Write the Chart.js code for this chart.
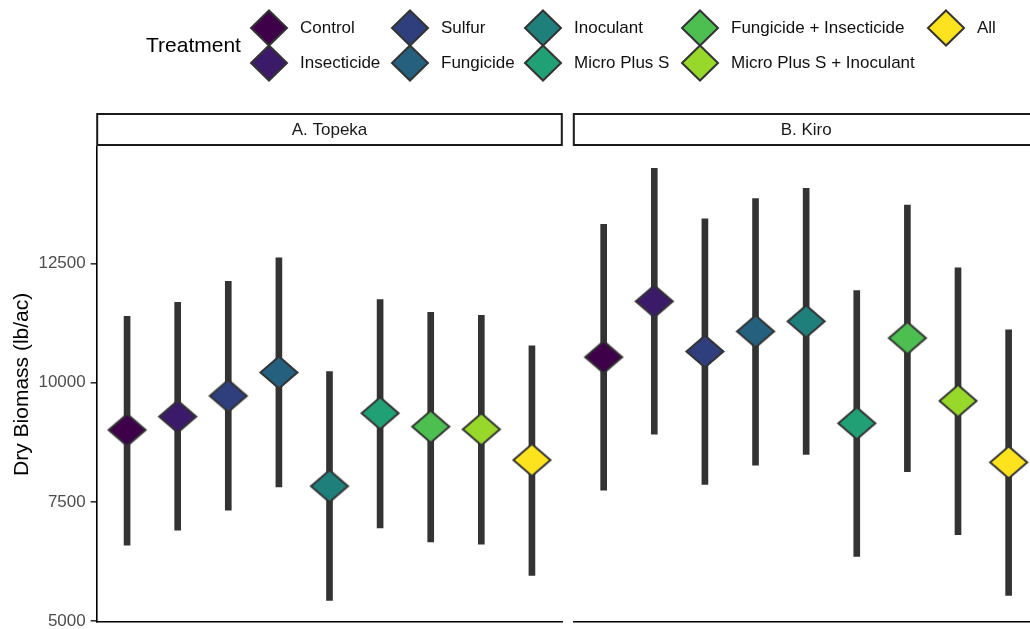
<!DOCTYPE html>
<html>
<head>
<meta charset="utf-8">
<script src="https://cdn.jsdelivr.net/npm/chart.js@4.4.1/dist/chart.umd.min.js"></script>
<style>
  html, body { margin: 0; padding: 0; overflow: hidden; background: #fff; }
  #wrap { position: relative; width: 1040px; height: 629px; }
  #wrap canvas { position: absolute; left: 0; top: 0; }
</style>
</head>
<body>
<div id="wrap">
  <canvas id="topekaChart" width="1040" height="629"></canvas>
  <canvas id="kiroChart" width="1040" height="629"></canvas>
</div>
<script>
// treatments, in legend / x order
const treatments = ['Control', 'Insecticide', 'Sulfur', 'Fungicide', 'Inoculant',
  'Micro Plus S', 'Fungicide + Insecticide', 'Micro Plus S + Inoculant', 'All'];

// A. Topeka
const topekaMean  = [9009, 9289, 9724, 10215, 7831, 9360, 9079, 9023, 8378];
const topekaLower = [6591, 6906, 7327, 7817, 5434, 6955, 6660, 6612, 5960];
const topekaUpper = [11392, 11686, 12128, 12620, 10236, 11743, 11476, 11413, 10776];

// B. Kiro
const kiroMean  = [10538, 11707, 10656, 11076, 11287, 9150, 10937, 9619, 8330];
const kiroLower = [7747, 8919, 7867, 8273, 8498, 6359, 8132, 6815, 5539];
const kiroUpper = [13320, 14498, 13440, 13861, 14077, 11932, 13726, 12410, 11112];

const yTicks = [5000, 7500, 10000, 12500];
const yMin = 4981;
const yMax = 14951;

const fillColors = ['#3d0049', '#3b1b69', '#2f3f7d', '#25607e', '#1e7f7b',
  '#22a075', '#4cbf50', '#97d82a', '#fde31e'];

const FONT = "'Liberation Sans', Arial, sans-serif";
Chart.defaults.font.family = FONT;

function diamondPath(ctx, cx, cy, hw, hh) {
  ctx.beginPath();
  ctx.moveTo(cx, cy - hh);
  ctx.lineTo(cx + hw, cy);
  ctx.lineTo(cx, cy + hh);
  ctx.lineTo(cx - hw, cy);
  ctx.closePath();
}

// point images for the plot diamonds
function makeDiamond(color) {
  const c = document.createElement('canvas');
  c.width = 42;
  c.height = 37;
  const ctx = c.getContext('2d');
  diamondPath(ctx, 21, 18.5, 18.5, 16);
  ctx.fillStyle = color;
  ctx.fill();
  ctx.lineWidth = 2;
  ctx.strokeStyle = '#333333';
  ctx.stroke();
  return c;
}
const diamondImgs = fillColors.map(makeDiamond);

const stripPlugin = {
  id: 'strip',
  afterDraw(chart, args, opts) {
    const { ctx, chartArea } = chart;
    const w = chartArea.right - chartArea.left;
    ctx.save();
    ctx.fillStyle = '#fff';
    ctx.fillRect(chartArea.left, 114, w, 31);
    ctx.strokeStyle = '#1a1a1a';
    ctx.lineWidth = 2;
    ctx.strokeRect(chartArea.left + 0.5, 114, w - 1, 31);
    ctx.fillStyle = '#1a1a1a';
    ctx.font = '17px ' + FONT;
    ctx.textAlign = 'center';
    ctx.textBaseline = 'middle';
    ctx.fillText(opts.text, chartArea.left + w / 2, 130);
    ctx.restore();
  }
};

const legendCols = [269, 410, 543, 700, 946];
const legendRows = [28, 63];
const legendPlugin = {
  id: 'treatLegend',
  afterDraw(chart) {
    const ctx = chart.ctx;
    ctx.save();
    ctx.textBaseline = 'middle';
    ctx.textAlign = 'left';
    ctx.fillStyle = '#000';
    ctx.font = '21px ' + FONT;
    ctx.fillText('Treatment', 146, 46);
    ctx.font = '17px ' + FONT;
    treatments.forEach((t, i) => {
      const cx = legendCols[Math.floor(i / 2)];
      const cy = legendRows[i % 2];
      diamondPath(ctx, cx, cy, 18, 17.5);
      ctx.fillStyle = fillColors[i];
      ctx.fill();
      ctx.lineWidth = 2;
      ctx.strokeStyle = '#333333';
      ctx.stroke();
      ctx.fillStyle = '#111';
      ctx.fillText(t, cx + 31, cy);
    });
    ctx.restore();
  }
};

// nudge layout padding so the plot area lands on the panel box
function fitArea(chart, box) {
  const a = chart.chartArea;
  const p = chart.options.layout.padding;
  p.left += box.left - a.left;
  p.right += a.right - box.right;
  p.top += box.top - a.top;
  p.bottom += a.bottom - box.bottom;
  chart.update();
}

function makePanel(canvasId, title, mean, lower, upper, isLeft) {
  const ctx = document.getElementById(canvasId).getContext('2d');
  const chart = new Chart(ctx, {
    type: 'bar',
    data: {
      datasets: [
        {
          type: 'scatter',
          data: mean.map((m, i) => ({ x: i, y: m })),
          pointStyle: diamondImgs,
          pointRadius: 18,
          order: 0
        },
        {
          type: 'bar',
          data: lower.map((lo, i) => ({ x: i, y: [lo, upper[i]] })),
          backgroundColor: '#333333',
          borderWidth: 0,
          barThickness: 6,
          order: 1
        }
      ]
    },
    options: {
      responsive: false,
      animation: false,
      devicePixelRatio: 1,
      layout: {
        autoPadding: false,
        padding: isLeft
          ? { left: 0, right: 477.7, top: 146.7, bottom: 7 }
          : { left: 573.3, right: 1, top: 146.7, bottom: 7 }
      },
      plugins: {
        legend: { display: false },
        tooltip: { enabled: false },
        strip: { text: title }
      },
      scales: {
        x: {
          type: 'linear',
          min: -0.6,
          max: 8.6,
          offset: false,
          ticks: { display: false },
          grid: { display: false },
          border: { display: true, color: '#000', width: 1.6 },
          afterFit: (scale) => { scale.height = 0; }
        },
        y: {
          display: isLeft,
          min: yMin,
          max: yMax,
          afterBuildTicks: (scale) => { scale.ticks = yTicks.map(v => ({ value: v })); },
          afterFit: (scale) => {
            if (isLeft) scale.width = 96.7;
            scale.paddingTop = 0;
            scale.paddingBottom = 0;
          },
          ticks: {
            color: '#4d4d4d',
            font: { size: 17 },
            padding: 5,
            callback: (v) => String(v)
          },
          grid: {
            drawOnChartArea: false,
            drawTicks: true,
            tickLength: 6,
            color: '#333333',
            lineWidth: 1.6
          },
          border: { display: true, color: '#000', width: 1.6 },
          title: {
            display: true,
            text: 'Dry Biomass (lb/ac)',
            color: '#000',
            font: { size: 21, lineHeight: 1.2 },
            padding: { top: 10, bottom: 0 }
          }
        }
      }
    },
    plugins: isLeft ? [stripPlugin, legendPlugin] : [stripPlugin]
  });
  fitArea(chart, isLeft
    ? { left: 96.7, right: 562.3, top: 146.7, bottom: 622 }
    : { left: 573.3, right: 1039, top: 146.7, bottom: 622 });
  return chart;
}

makePanel('topekaChart', 'A. Topeka', topekaMean, topekaLower, topekaUpper, true);
makePanel('kiroChart', 'B. Kiro', kiroMean, kiroLower, kiroUpper, false);
</script>
</body>
</html>
